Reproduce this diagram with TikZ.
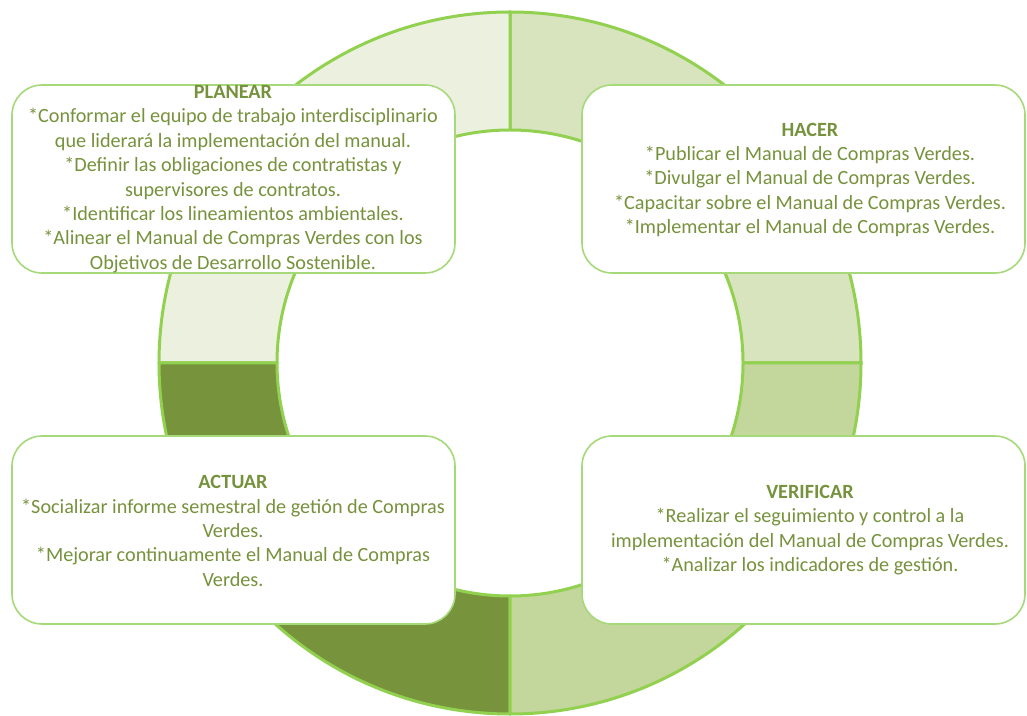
\documentclass[tikz,border=0pt]{standalone}
\usepackage{fontspec}
\setmainfont{Carlito}
\usetikzlibrary{calc}
\definecolor{ringline}{HTML}{92D050}
\definecolor{boxline}{HTML}{A6D979}
\definecolor{txt}{HTML}{76923C}
\definecolor{qa}{HTML}{EBF1DE}
\definecolor{qb}{HTML}{D7E4BD}
\definecolor{qc}{HTML}{C3D69B}
\definecolor{qd}{HTML}{77933C}
\begin{document}
\begin{tikzpicture}[x=1pt,y=1pt,
 sector/.style={draw=ringline, line width=3pt, line join=round},
 card/.style={draw=boxline, line width=1.6pt, fill=white, rounded corners=30pt, minimum width=443pt, minimum height=188pt, inner sep=0pt},
 cardtext/.style={text=txt, align=center, font=\fontsize{20.2}{24.4}\selectfont, inner sep=0pt}]
\useasboundingbox (0,0) rectangle (1027,715);
\fill[white] (0,0) rectangle (1027,715);
\coordinate (c) at (510,352);
\def\Ro{351pt}\def\Ri{233pt}
\path[sector, fill=qb] ($(c)+(0:\Ro)$) arc[start angle=0,end angle=90,radius=\Ro] -- ($(c)+(90:\Ri)$) arc[start angle=90,end angle=0,radius=\Ri] -- cycle;
\path[sector, fill=qa] ($(c)+(90:\Ro)$) arc[start angle=90,end angle=180,radius=\Ro] -- ($(c)+(180:\Ri)$) arc[start angle=180,end angle=90,radius=\Ri] -- cycle;
\path[sector, fill=qd] ($(c)+(180:\Ro)$) arc[start angle=180,end angle=270,radius=\Ro] -- ($(c)+(270:\Ri)$) arc[start angle=270,end angle=180,radius=\Ri] -- cycle;
\path[sector, fill=qc] ($(c)+(270:\Ro)$) arc[start angle=270,end angle=360,radius=\Ro] -- ($(c)+(360:\Ri)$) arc[start angle=360,end angle=270,radius=\Ri] -- cycle;
% cards
\node[card] (planbox) at (233.5,536) {};
\node[card] (hacbox) at (803.5,536) {};
\node[card] (actbox) at (233.5,185) {};
\node[card] (verbox) at (803.5,185) {};
\node[cardtext] (plantext) at (233,536) {\textbf{PLANEAR}\\{*}Conformar el equipo de trabajo interdisciplinario\\que liderará la implementación del manual.\\{*}Definir las obligaciones de contratistas y\\supervisores de contratos.\\{*}Identificar los lineamientos ambientales.\\{*}Alinear el Manual de Compras Verdes con los\\Objetivos de Desarrollo Sostenible.};
\node[cardtext] (hactext) at (810,535) {\textbf{HACER}\\{*}Publicar el Manual de Compras Verdes.\\{*}Divulgar el Manual de Compras Verdes.\\{*}Capacitar sobre el Manual de Compras Verdes.\\{*}Implementar el Manual de Compras Verdes.};
\node[cardtext] (acttext) at (233,184) {\textbf{ACTUAR}\\{*}Socializar informe semestral de getión de Compras\\Verdes.\\{*}Mejorar continuamente el Manual de Compras\\Verdes.};
\node[cardtext] (vertext) at (810,185) {\textbf{VERIFICAR}\\{*}Realizar el seguimiento y control a la\\implementación del Manual de Compras Verdes.\\{*}Analizar los indicadores de gestión.};
\end{tikzpicture}
\end{document}
